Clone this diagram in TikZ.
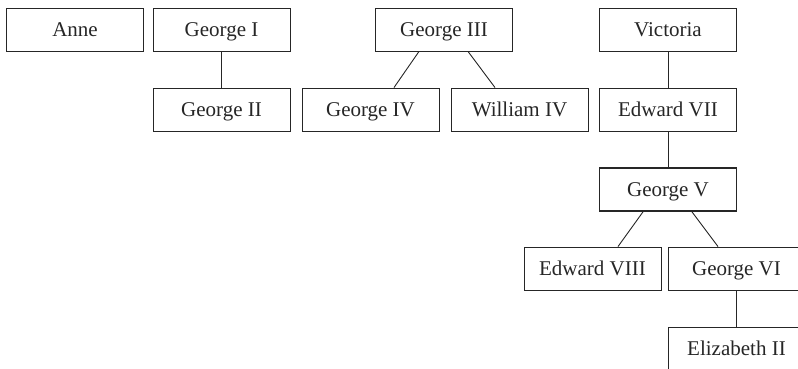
\documentclass[tikz,border=0pt]{standalone}
\usepackage{fontspec}
\setmainfont{Liberation Serif}
\usetikzlibrary{calc}
\begin{document}
\begin{tikzpicture}[x=1pt,y=-1pt,
  person/.style={draw=black!85, line width=0.9pt, minimum width=137pt, minimum height=43pt,
    inner sep=0pt, text height=13.9pt, text depth=0pt, font=\fontsize{21}{24}\selectfont, text=black!85},
  heir/.style={person, line width=1.7pt},
  link/.style={draw=black!85, line width=0.9pt}]
\useasboundingbox (0,0) rectangle (798,368);
\node[person] (anne) at (75,29.5) {Anne};
\node[person] (g1) at (221.5,29.5) {George I};
\node[person] (g2) at (221.5,109.5) {George II};
\node[person] (g3) at (444,29.5) {George III};
\node[person] (g4) at (370.5,109.5) {George IV};
\node[person] (w4) at (519.5,109.5) {William IV};
\node[person] (vic) at (668,29.5) {Victoria};
\node[person] (e7) at (668,109.5) {Edward VII};
\node[heir] (g5) at (668,189.5) {George V};
\node[person] (e8) at (592.5,268.5) {Edward VIII};
\node[person] (g6) at (736.5,268.5) {George VI};
\node[person] (e2) at (736.5,348.5) {Elizabeth II};
\draw[link] (g1.south) -- (g2.north);
\draw[link] ($(g3.south)+(-25,0)$) -- ($(g4.north)+(23.5,0)$);
\draw[link] ($(g3.south)+(24,0)$) -- ($(w4.north)+(-24.5,0)$);
\draw[link] (vic.south) -- (e7.north);
\draw[link] (e7.south) -- (g5.north);
\draw[link] ($(g5.south)+(-25,0)$) -- ($(e8.north)+(25.5,0)$);
\draw[link] ($(g5.south)+(24,0)$) -- ($(g6.north)+(-18.5,0)$);
\draw[link] (g6.south) -- (e2.north);
\end{tikzpicture}
\end{document}
